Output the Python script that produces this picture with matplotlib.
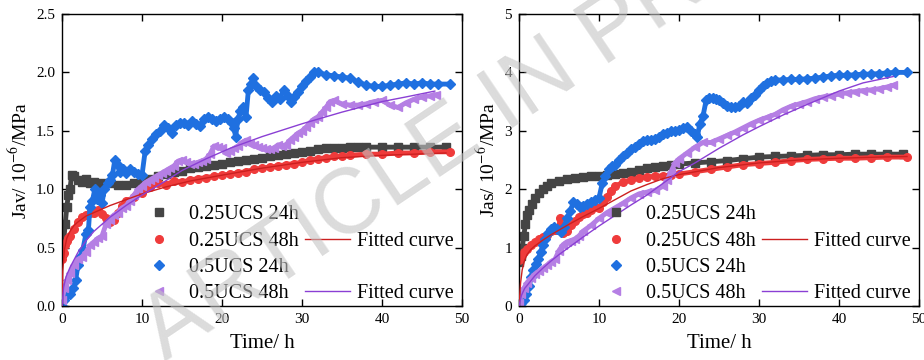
import matplotlib
matplotlib.use("Agg")
import matplotlib.pyplot as plt
from matplotlib.lines import Line2D

plt.rcParams['font.family'] = ['Liberation Serif', 'DejaVu Serif']
plt.rcParams['mathtext.fontset'] = 'stix'

# ---- data: (time h, value) ----
# left panel: Jav
jav_025_24 = [(0, 0.45), (0.2, 0.55), (0.4, 0.7), (0.6, 0.85), (0.8, 0.95), (1.0, 1.0), (1.2, 1.12),
              (1.5, 1.11), (2, 1.08), (2.5, 1.06), (3, 1.09), (3.5, 1.05), (4, 1.06), (5, 1.05), (6, 1.05),
              (7, 1.04), (8, 1.04), (9, 1.05), (10, 1.07), (11, 1.09), (12, 1.11), (13, 1.13), (14, 1.15),
              (15, 1.16), (16, 1.18), (17, 1.19), (18, 1.2), (19, 1.21), (20, 1.22), (21, 1.23), (22, 1.24),
              (23, 1.25), (24, 1.26), (25, 1.27), (26, 1.28), (27, 1.29), (28, 1.3), (29, 1.31), (30, 1.32),
              (31, 1.33), (32, 1.34), (33, 1.35), (34, 1.35), (35, 1.35), (36, 1.36), (37, 1.36), (38, 1.36),
              (40, 1.36), (42, 1.36), (44, 1.36), (46, 1.36), (48, 1.36)]
jav_025_48 = [(0, 0.4), (0.2, 0.45), (0.4, 0.52), (0.6, 0.56), (0.8, 0.58), (1, 0.6), (1.5, 0.66), (2, 0.72),
              (2.5, 0.76), (3, 0.78), (3.5, 0.8), (4, 0.8), (4.5, 0.82), (5, 0.79), (5.5, 0.75), (6, 0.72),
              (6.5, 0.74), (7, 0.8), (7.5, 0.86), (8, 0.9), (9, 0.93), (10, 0.97), (11, 1.02), (12, 1.05),
              (13, 1.04), (14, 1.07), (15, 1.06), (16, 1.08), (17, 1.09), (18, 1.1), (19, 1.11), (20, 1.12),
              (21, 1.13), (22, 1.14), (23, 1.15), (24, 1.17), (25, 1.18), (26, 1.19), (27, 1.2), (28, 1.21),
              (29, 1.22), (30, 1.23), (31, 1.25), (32, 1.26), (33, 1.27), (34, 1.28), (35, 1.28), (36, 1.29),
              (38, 1.3), (40, 1.3), (42, 1.31), (44, 1.31), (46, 1.32), (48.5, 1.32)]
jav_025_fit = [(0, 0.0), (0.1, 0.3), (0.3, 0.48), (0.6, 0.58), (1, 0.64), (1.5, 0.69), (2, 0.72), (3, 0.77),
               (4, 0.8), (6, 0.86), (8, 0.91), (10, 0.96), (13, 1.02), (16, 1.07), (20, 1.12), (25, 1.18),
               (30, 1.23), (35, 1.27), (40, 1.29), (44, 1.3), (48, 1.31)]
jav_05_24 = [(0, 0.0), (0.3, 0.05), (0.6, 0.1), (1.0, 0.1), (1.4, 0.15), (1.7, 0.22), (2.0, 0.35), (2.3, 0.42),
             (2.6, 0.48), (3.0, 0.62), (3.3, 0.65), (3.5, 0.85), (3.8, 0.9), (4.1, 1.0), (4.4, 0.92), (4.7, 0.95),
             (5.0, 0.88), (5.3, 1.0), (5.7, 1.05), (6.0, 1.08), (6.3, 1.12), (6.6, 1.25), (6.9, 1.22),
             (7.2, 1.15), (7.6, 1.17), (8.0, 1.14), (8.5, 1.17), (9.0, 1.15), (9.5, 1.13), (10.0, 1.12),
             (10.4, 1.33), (10.8, 1.38), (11.2, 1.43), (11.7, 1.47), (12.2, 1.5), (12.7, 1.55), (13.2, 1.52),
             (13.7, 1.48), (14.2, 1.55), (14.7, 1.57), (15.2, 1.57), (15.7, 1.55), (16.2, 1.58), (16.7, 1.56),
             (17.2, 1.54), (17.7, 1.6), (18.2, 1.62), (18.7, 1.6), (19.2, 1.58), (19.7, 1.6), (20.2, 1.62),
             (20.7, 1.6), (21.2, 1.57), (21.5, 1.52), (21.7, 1.45), (22.0, 1.6), (22.3, 1.67), (22.6, 1.7),
             (23.0, 1.62), (23.3, 1.85), (23.6, 1.9), (23.9, 1.95), (24.3, 1.88), (24.8, 1.85), (25.3, 1.83),
             (25.8, 1.78), (26.2, 1.75), (26.7, 1.8), (27.2, 1.77), (27.7, 1.85), (28.2, 1.8), (28.6, 1.75),
             (29.0, 1.79), (29.5, 1.83), (30.0, 1.88), (30.5, 1.93), (31.0, 1.96), (31.5, 2.0), (32.0, 2.0),
             (33.0, 1.98), (34.0, 1.97), (35.0, 1.96), (36.0, 1.95), (37.0, 1.92), (38.0, 1.89), (39.0, 1.88),
             (40.0, 1.88), (41.0, 1.89), (42.0, 1.9), (43.0, 1.91), (44.0, 1.9), (45.0, 1.91), (46.0, 1.9),
             (47.0, 1.9), (48.5, 1.9)]
jav_05_48 = [(0, 0.05), (0.3, 0.15), (0.6, 0.22), (1.0, 0.28), (1.5, 0.35), (2.0, 0.4), (2.5, 0.42), (3.0, 0.46),
             (3.5, 0.52), (4.0, 0.55), (4.5, 0.58), (5.0, 0.6), (5.5, 0.7), (6.0, 0.74), (6.5, 0.78), (7.0, 0.8),
             (7.5, 0.84), (8.0, 0.86), (8.5, 0.9), (9.0, 0.95), (9.5, 1.0), (10.0, 1.03), (10.5, 1.06),
             (11.0, 1.08), (11.5, 1.1), (12.0, 1.12), (12.5, 1.14), (13.0, 1.16), (13.5, 1.18), (14.0, 1.2),
             (14.5, 1.24), (15.0, 1.25), (15.5, 1.23), (16.0, 1.22), (16.5, 1.22), (17.0, 1.23), (17.5, 1.24),
             (18.0, 1.26), (18.5, 1.3), (19.0, 1.37), (19.5, 1.36), (20.0, 1.35), (20.5, 1.31), (21.0, 1.33),
             (21.5, 1.35), (22.0, 1.37), (22.5, 1.4), (23.0, 1.42), (23.5, 1.39), (24.0, 1.38), (24.5, 1.36),
             (25.0, 1.35), (25.5, 1.34), (26.0, 1.34), (26.5, 1.35), (27.0, 1.38), (27.5, 1.37), (28.0, 1.38),
             (28.5, 1.42), (29.0, 1.45), (29.5, 1.48), (30.0, 1.5), (30.5, 1.53), (31.0, 1.57), (31.5, 1.6),
             (32.0, 1.62), (32.5, 1.66), (33.0, 1.7), (33.5, 1.75), (34.0, 1.76), (35.0, 1.73), (36.0, 1.72),
             (37.0, 1.72), (38.0, 1.73), (39.0, 1.75), (40.0, 1.76), (41.0, 1.72), (42.0, 1.7), (43.0, 1.74),
             (44.0, 1.77), (45.0, 1.79), (46.0, 1.8), (46.8, 1.81)]
jav_05_fit = [(0, 0.0), (0.2, 0.16), (0.5, 0.25), (1, 0.33), (2, 0.46), (3, 0.56), (4, 0.64), (5, 0.7),
              (6, 0.76), (8, 0.86), (10, 0.95), (12, 1.03), (15, 1.16), (18, 1.26), (21, 1.35), (25, 1.45),
              (30, 1.56), (35, 1.66), (40, 1.75), (43, 1.79), (46.6, 1.84)]

# right panel: Jas
jas_025_24 = [(0, 0.75), (0.2, 0.85), (0.4, 1.0), (0.6, 1.2), (0.8, 1.4), (1.0, 1.55), (1.3, 1.65), (1.6, 1.75),
              (2.0, 1.85), (2.5, 1.93), (3.0, 2.0), (3.5, 2.06), (4, 2.1), (5, 2.14), (6, 2.17), (7, 2.19),
              (8, 2.21), (9, 2.22), (10, 2.23), (11, 2.24), (12, 2.26), (13, 2.28), (14, 2.3), (15, 2.33),
              (16, 2.36), (17, 2.38), (18, 2.4), (19, 2.42), (20, 2.43), (22, 2.45), (24, 2.47), (26, 2.49),
              (28, 2.52), (30, 2.55), (32, 2.56), (34, 2.57), (36, 2.58), (38, 2.59), (40, 2.59), (42, 2.6),
              (44, 2.6), (46, 2.6), (48, 2.6)]
jas_025_48 = [(0, 0.78), (0.3, 0.85), (0.6, 0.92), (1, 0.98), (1.5, 1.05), (2, 1.1), (2.5, 1.15), (3, 1.19),
              (3.5, 1.22), (4, 1.28), (4.5, 1.3), (5, 1.3), (5.1, 1.5), (5.5, 1.25), (6, 1.28), (6.5, 1.38),
              (7, 1.45), (7.5, 1.52), (8, 1.58), (8.5, 1.6), (9, 1.65), (9.5, 1.7), (10, 1.68), (10.5, 1.78),
              (11, 1.87), (11.5, 1.97), (12, 2.05), (13, 2.12), (14, 2.16), (15, 2.19), (16, 2.21), (17, 2.22),
              (18, 2.23), (19, 2.24), (20, 2.26), (22, 2.3), (24, 2.34), (26, 2.38), (28, 2.42), (30, 2.44),
              (32, 2.46), (34, 2.49), (36, 2.51), (38, 2.52), (40, 2.53), (42, 2.53), (44, 2.54), (46, 2.55),
              (48.5, 2.55)]
jas_025_fit = [(0, 0.0), (0.2, 0.4), (0.4, 0.62), (0.7, 0.78), (1, 0.88), (1.5, 0.97), (2, 1.03), (3, 1.13),
               (4, 1.22), (5, 1.3), (6, 1.38), (8, 1.53), (10, 1.67), (12, 1.82), (14, 1.97), (16, 2.08),
               (18, 2.18), (20, 2.25), (25, 2.37), (30, 2.45), (35, 2.5), (40, 2.53), (45, 2.55), (48.5, 2.56)]
jas_05_24 = [(0, 0.0), (0.3, 0.05), (0.6, 0.1), (0.9, 0.2), (1.2, 0.35), (1.5, 0.5), (1.8, 0.62), (2.1, 0.72),
             (2.4, 0.8), (2.7, 0.92), (3.0, 1.05), (3.3, 1.15), (3.6, 1.25), (4.0, 1.32), (4.4, 1.36),
             (4.8, 1.32), (5.2, 1.27), (5.6, 1.35), (6.0, 1.5), (6.4, 1.62), (6.8, 1.78), (7.2, 1.75),
             (7.6, 1.7), (8.0, 1.72), (8.5, 1.75), (9.0, 1.78), (9.5, 1.82), (10.0, 1.85), (10.4, 2.1),
             (10.8, 2.22), (11.2, 2.35), (11.6, 2.4), (12.0, 2.42), (12.5, 2.5), (13, 2.56), (13.5, 2.62),
             (14, 2.68), (14.5, 2.72), (15, 2.78), (15.5, 2.82), (16, 2.84), (16.5, 2.85), (17, 2.86),
             (17.5, 2.9), (18, 2.94), (18.5, 2.97), (19, 2.99), (19.5, 3.0), (20, 3.02), (20.5, 3.05),
             (21, 3.06), (21.5, 3.0), (22, 2.95), (22.3, 2.9), (22.6, 3.12), (23.0, 3.25), (23.4, 3.53),
             (23.8, 3.57), (24.2, 3.56), (24.6, 3.54), (25, 3.52), (25.5, 3.47), (26, 3.42), (26.5, 3.4),
             (27, 3.4), (27.5, 3.43), (28, 3.5), (28.5, 3.47), (29, 3.56), (29.5, 3.62), (30, 3.7),
             (30.5, 3.76), (31, 3.82), (31.5, 3.86), (32, 3.87), (33, 3.87), (34, 3.88), (35, 3.88),
             (36, 3.89), (37, 3.9), (38, 3.92), (39, 3.94), (40, 3.95), (41, 3.95), (42, 3.96), (43, 3.97),
             (44, 3.97), (45, 3.98), (46, 3.99), (47, 4.0), (48.5, 4.0)]
jas_05_48 = [(0, 0.05), (0.3, 0.2), (0.6, 0.3), (1, 0.4), (1.5, 0.48), (2, 0.55), (2.5, 0.6), (3, 0.65),
             (3.5, 0.7), (4, 0.76), (4.5, 0.8), (5, 0.95), (5.5, 1.05), (6, 1.1), (6.5, 1.12), (7, 1.15),
             (7.5, 1.2), (8, 1.28), (9, 1.38), (10, 1.5), (11, 1.6), (12, 1.68), (13, 1.76), (14, 1.85),
             (15, 1.92), (16, 1.95), (17, 1.98), (18, 2.05), (18.5, 2.15), (19, 2.3), (19.5, 2.45), (20, 2.52),
             (21, 2.62), (22, 2.72), (23, 2.8), (24, 2.8), (25, 2.86), (26, 2.92), (27, 2.98), (28, 3.05),
             (29, 3.12), (30, 3.18), (31, 3.23), (32, 3.28), (33, 3.36), (34, 3.42), (35, 3.46), (36, 3.5),
             (37, 3.55), (38, 3.58), (39, 3.6), (40, 3.63), (41, 3.65), (42, 3.67), (43, 3.69), (44, 3.7),
             (45, 3.72), (46, 3.75), (46.8, 3.78)]
jas_05_fit = [(0, 0.0), (0.3, 0.18), (0.7, 0.3), (1, 0.35), (2, 0.52), (3, 0.65), (4, 0.77), (5, 0.88),
              (6, 0.98), (8, 1.18), (10, 1.37), (12, 1.55), (14, 1.73), (16, 1.9), (18, 2.1), (20, 2.3),
              (22, 2.45), (25, 2.7), (28, 2.93), (30, 3.07), (33, 3.27), (36, 3.45), (40, 3.68), (43, 3.82),
              (46.8, 3.93)]

labels = ['0.25UCS 24h', '0.25UCS 48h', '0.5UCS 24h', '0.5UCS 48h']
colors = ['#454545', '#ef3b3b', '#1f70e0', '#b57fe4']
markers = ['s', 'o', 'D', '<']
fit_colors = ['#cc1f1f', '#8a3fd4']


def xy(pts):
    return [p[0] for p in pts], [p[1] for p in pts]


fig = plt.figure(figsize=(9.24, 3.6), dpi=100)
ax1 = fig.add_axes([62/924, 54/360, 400/924, 292/360])
ax2 = fig.add_axes([519/924, 54/360, 400/924, 292/360])

panels = [
    (ax1, [jav_025_24, jav_025_48, jav_05_24, jav_05_48], [jav_025_fit, jav_05_fit],
     'Jav/ 10$^{-6}$/MPa', 2.5, [0, 0.5, 1.0, 1.5, 2.0, 2.5], '%.1f'),
    (ax2, [jas_025_24, jas_025_48, jas_05_24, jas_05_48], [jas_025_fit, jas_05_fit],
     'Jas/ 10$^{-6}$/MPa', 5, [0, 1, 2, 3, 4, 5], '%d'),
]

for ax, series, fits, ylab, ymax, yt, fmt in panels:
    for s, c, m in zip(series, colors, markers):
        t, v = xy(s)
        ax.plot(t, v, color=c, lw=3.5, marker=m, ms=5.5, mec=c, mfc=c, zorder=2)
    for f, c in zip(fits, fit_colors):
        t, v = xy(f)
        ax.plot(t, v, color=c, lw=1.0, zorder=3)
    ax.set_xlim(0, 50)
    ax.set_ylim(0, ymax)
    ax.set_xticks([0, 10, 20, 30, 40, 50])
    ax.set_yticks(yt)
    ax.set_yticklabels([fmt % v for v in yt])
    ax.tick_params(direction='in', top=True, right=True, length=5, width=1, labelsize=11, pad=5)
    for sp in ax.spines.values():
        sp.set_linewidth(1.0)
    ax.set_xlabel('Time/ h', fontsize=15, labelpad=6)
    ax.set_ylabel(ylab, fontsize=14, labelpad=4)

    blank = Line2D([], [], linestyle='none', marker=None)
    handles = [Line2D([], [], linestyle='none', marker=m, color=c, ms=5.5) for m, c in zip(markers, colors)]
    handles += [blank, Line2D([], [], color=fit_colors[0], lw=1.0), blank, Line2D([], [], color=fit_colors[1], lw=1.0)]
    labs = labels + ['', 'Fitted curve', '', 'Fitted curve']
    ax.legend(handles, labs, ncol=2, loc='lower right', bbox_to_anchor=(1.025, -0.053), frameon=False,
              fontsize=14.5, handlelength=2.25, handletextpad=0.35, columnspacing=0.3, labelspacing=0.36)

fig.text(165/924, -2/360, 'ARTICLE IN PRESS', family='Liberation Sans', fontsize=66, color='#c4c4c4',
         alpha=0.6, rotation=34, rotation_mode='anchor', ha='left', va='baseline', zorder=10)

fig.savefig('out.png', dpi=100)
